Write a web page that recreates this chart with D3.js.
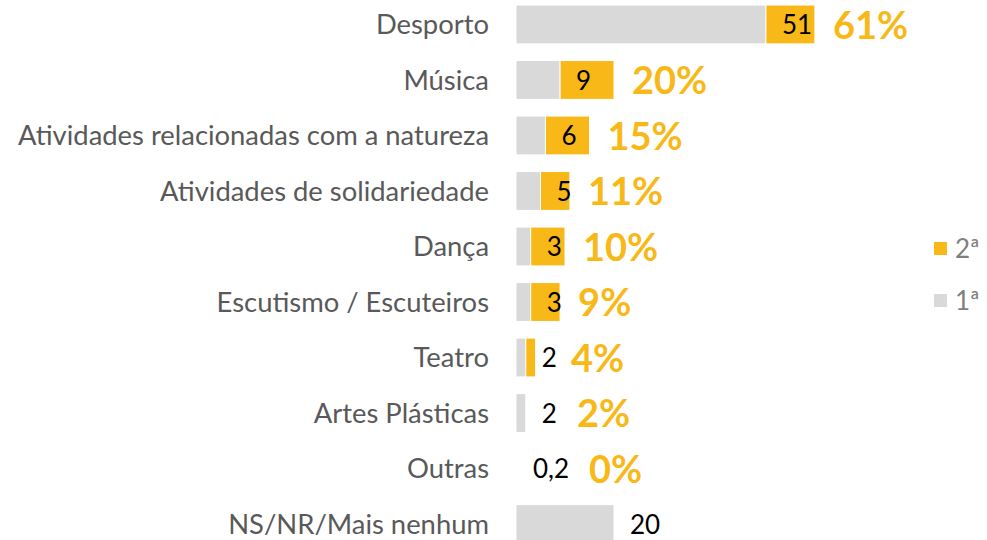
<!DOCTYPE html>
<html>
<head>
<meta charset="utf-8">
<script src="https://cdn.jsdelivr.net/npm/d3@7"></script>
<style>
  body { margin: 0; background: #fff; }
  svg { display: block; font-family: Lato, "Open Sans", sans-serif; }
</style>
</head>
<body>
<div id="chart"></div>
<script>
var width = 987,
    height = 540;

// data
var categorias = ["Desporto", "Música", "Atividades relacionadas com a natureza",
    "Atividades de solidariedade", "Dança", "Escutismo / Escuteiros", "Teatro",
    "Artes Plásticas", "Outras", "NS/NR/Mais nenhum"];
var primeira = [51, 9, 6, 5, 3, 3, 2, 2, 0.2, 20];
var segunda = [10, 11, 9, 6, 7, 6, 2, 0, 0, 0];
var totais = [61, 20, 15, 11, 10, 9, 4, 2, 0, null];
var series = ["2ª", "1ª"];

var cinza = "#d9d9d9",
    amarelo = "#f8b817";

var pt = d3.formatLocale({ decimal: ",", thousands: ".", grouping: [3], currency: ["", "€"] });
var fmt = function (v) { return pt.format(",")(v); };

var rows = categorias.map(function (c, i) {
    return { name: c, a: primeira[i], b: segunda[i], total: totais[i] };
});

var x = d3.scaleLinear().domain([0, 10]).range([516, 565]);

var y = d3.scaleBand()
    .domain(categorias)
    .range([-3.3, 551.8])
    .paddingInner(0.3)
    .paddingOuter(0.15);

var svg = d3.select("#chart")
    .append("svg")
    .attr("width", width)
    .attr("height", height);

// category labels
svg.append("g")
    .selectAll("text")
    .data(rows)
    .enter()
    .append("text")
    .attr("x", 489)
    .attr("y", function (d) { return y(d.name) + y.bandwidth() / 2; })
    .attr("dy", "0.35em")
    .attr("text-anchor", "end")
    .style("font-size", "27.4px")
    .style("fill", "#595959")
    .text(function (d) { return d.name; });

// 1a bars
svg.append("g")
    .selectAll("rect")
    .data(rows)
    .enter()
    .append("rect")
    .attr("x", x(0))
    .attr("y", function (d) { return y(d.name); })
    .attr("width", function (d) { return x(d.a) - x(0); })
    .attr("height", y.bandwidth())
    .style("fill", cinza)
    .style("stroke", "#fff")
    .style("stroke-width", 1);

// 2a bars
svg.append("g")
    .selectAll("rect")
    .data(rows.filter(function (d) { return d.b > 0; }))
    .enter()
    .append("rect")
    .attr("x", function (d) { return x(d.a); })
    .attr("y", function (d) { return y(d.name); })
    .attr("width", function (d) { return x(d.a + d.b) - x(d.a); })
    .attr("height", y.bandwidth())
    .style("fill", amarelo)
    .style("stroke", "#fff")
    .style("stroke-width", 1);

// value labels of the 1a series (outside end)
var valLabels = svg.append("g")
    .selectAll("text")
    .data(rows)
    .enter()
    .append("text")
    .attr("x", function (d) { return x(d.a) + 16; })
    .attr("y", function (d) { return y(d.name) + y.bandwidth() / 2; })
    .attr("dy", "0.38em")
    .style("font-size", "26px")
    .style("fill", "#000")
    .text(function (d) { return fmt(d.a); });

// percentage labels
var ends = [];
valLabels.each(function (d, i) {
    ends[i] = x(d.a) + 16 + this.getComputedTextLength();
});

svg.append("g")
    .selectAll("text")
    .data(rows)
    .enter()
    .filter(function (d) { return d.total !== null; })
    .append("text")
    .attr("x", function (d) {
        var i = categorias.indexOf(d.name);
        return Math.max(x(d.a + d.b) + 18, ends[i] + (d.b > 0 ? 14 : 20));
    })
    .attr("y", function (d) { return y(d.name) + y.bandwidth() / 2; })
    .attr("dy", "0.38em")
    .style("font-size", "38px")
    .style("font-weight", "bold")
    .style("fill", amarelo)
    .text(function (d) { return d.total + "%"; });

// legend
var legend = svg.append("g")
    .selectAll("g")
    .data(series)
    .enter()
    .append("g")
    .attr("transform", function (d, i) { return "translate(934," + (249 + i * 52) + ")"; });

legend.append("rect")
    .attr("x", 0)
    .attr("y", -7)
    .attr("width", 13)
    .attr("height", 13)
    .style("fill", function (d, i) { return i === 0 ? amarelo : cinza; });

legend.append("text")
    .attr("x", 21)
    .attr("y", 0)
    .attr("dy", "0.35em")
    .style("font-size", "26px")
    .style("fill", "#7f7f7f")
    .text(function (d) { return d; });
</script>
</body>
</html>
